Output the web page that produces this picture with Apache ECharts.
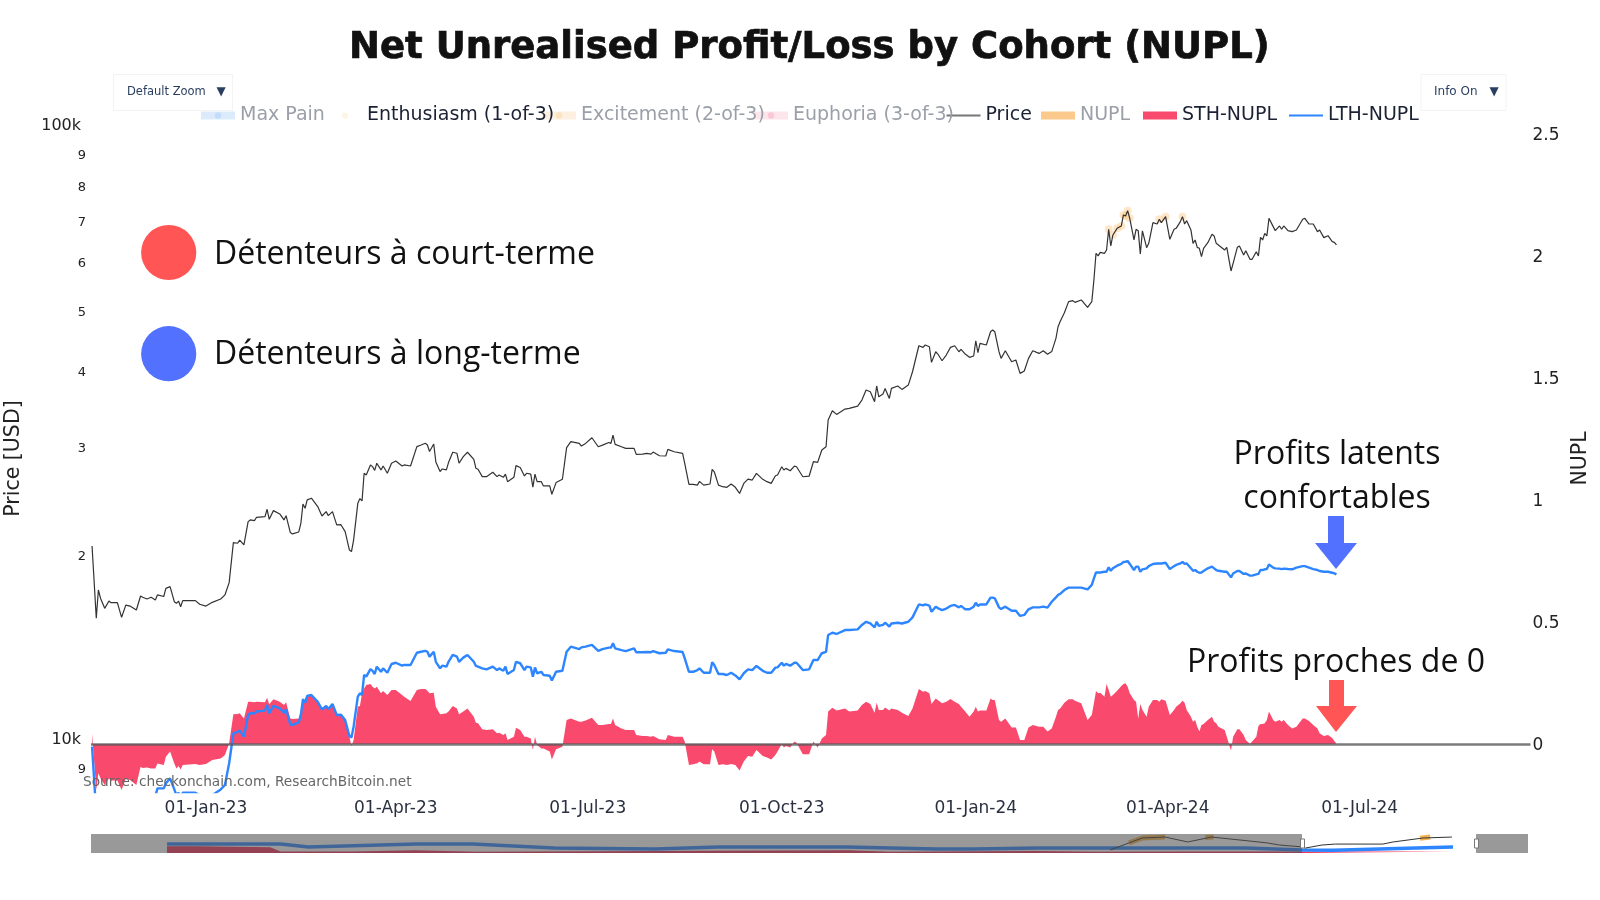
<!DOCTYPE html>
<html>
<head>
<meta charset="utf-8">
<title>Net Unrealised Profit/Loss by Cohort (NUPL)</title>
<script src="https://cdn.jsdelivr.net/npm/echarts@6/dist/echarts.min.js"></script>
<style>
	html, body { margin: 0; padding: 0; background: #fff; }
	#chart { width: 1600px; height: 900px; }
</style>
</head>
<body>
<div id="chart"></div>
<script>
// days since startDate
var startDate = Date.UTC(2022, 10, 8);
var days = [
	0,2,3,4,6,8,9,12,14,16,
	18,21,23,24,26,28,30,31,34,35,
	37,39,40,41,42,43,49,51,54,57,
	61,63,65,67,69,70,72,74,75,77,
	78,82,83,84,86,89,91,92,94,95,
	98,99,100,101,102,104,107,109,111,112,
	114,116,118,120,122,123,124,126,127,128,
	129,130,132,133,134,135,137,138,140,142,
	144,147,148,151,154,156,158,159,160,162,
	163,165,166,168,169,171,173,174,176,178,
	181,182,183,185,187,190,192,193,195,196,
	197,200,201,203,205,206,208,209,210,211,
	213,214,217,218,220,223,225,227,231,232,
	234,237,240,242,245,246,247,248,251,253,
	257,258,261,263,265,266,269,272,273,276,
	280,281,283,285,287,288,290,293,294,295,
	297,299,301,303,305,307,309,311,313,315,
	318,320,322,324,325,327,328,329,331,333,
	334,337,340,342,344,346,348,349,351,353,
	357,359,363,365,367,369,371,372,373,375,
	376,378,379,382,384,387,389,392,394,395,
	397,398,400,401,403,405,407,409,411,412,
	414,416,418,419,420,421,424,426,427,428,
	430,431,433,436,438,440,442,444,446,449,
	451,453,455,457,458,459,461,463,465,466,
	469,472,474,475,476,477,478,480,481,482,
	483,484,486,488,489,490,491,492,494,495,
	496,497,498,500,501,503,505,506,507,509,
	511,513,514,516,517,518,519,521,522,523,
	524,525,526,527,529,531,532,533,534,537,
	538,540,541,543,544,546,547,549,550,552,
	553,554,555,556,557,558,560,561,563,564,
	565,567,569,571,574,575,577,579,581,582,
	584,586,588,589,590
];
var price = [
	20600,15700,17460,16930,16300,16750,16650,16650,15760,16500,
	16440,16200,17070,16990,16880,16990,16820,17140,17040,17570,
	17680,16710,16610,16750,16400,16780,16780,16550,16440,16670,
	16880,17140,17950,20860,20810,21060,20680,22570,22710,22650,
	22940,23000,23640,22770,23520,23230,22710,23080,21660,21550,
	21710,22430,24110,23730,24490,24640,23880,23050,23430,23080,
	23430,22290,22310,21740,20290,20170,21060,24170,24610,24390,
	27060,26890,27920,27740,27350,28100,27400,27810,27060,28100,
	28340,27810,27920,27810,29910,30090,30280,30090,29360,30200,
	28230,27230,27500,27400,28170,29280,29170,28100,28800,29280,
	28500,27570,27470,26720,26720,27160,26720,26890,26650,26980,
	26220,26650,27850,27660,26790,27060,26980,25680,26980,26220,
	26220,25800,25800,25010,26130,26460,29800,30470,30280,29970,
	30270,30920,29890,30080,30380,30270,31230,30160,29890,29710,
	29710,29050,29080,29160,29080,29300,28900,28870,29600,29340,
	29160,28080,25950,25950,25880,26250,25880,25990,27460,27210,
	25880,25730,25670,25990,25670,25090,26050,26480,26380,27050,
	26450,26220,26050,26810,26890,27730,27390,27560,27320,27800,
	27730,26710,26780,28260,28190,29530,29890,33040,34220,33750,
	34430,34520,34820,35620,36980,36750,35400,37550,36060,36430,
	37210,35840,37210,37550,37070,37680,39610,43670,43400,43790,
	43510,41030,42700,42330,41280,42170,43400,43670,42700,43080,
	42330,41810,42020,44500,42550,44060,43790,46030,46320,46030,
	42700,41650,42860,41130,41390,39370,39720,41650,42860,42430,
	42870,42290,42720,44900,46900,47820,49440,51530,51730,51400,
	51860,50450,51530,55890,61780,61180,62010,61780,62560,67610,
	63500,66180,67860,68460,71340,71070,72510,70450,64950,67610,
	67270,61630,67200,63110,64140,69310,68960,70190,69310,70900,
	65120,67610,67860,69580,70900,68960,69840,67440,64140,64950,
	63180,62950,61010,62950,64300,66350,65940,64140,63740,62560,
	63180,57820,59510,63180,63500,61390,62400,60410,60410,62160,
	61180,65610,64950,66590,65940,70450,68290,67270,68460,67610,
	68460,67270,67010,67440,70190,70450,68960,68960,67010,67440,
	65520,66010,64540,64380,63740
];
var lthNupl = [
	-.011,-.284,-.24,-.25,-.26,-.25,-.25,-.25,-.28,-.25,
	-.25,-.26,-.215,-.22,-.22,-.215,-.215,-.182,-.182,-.161,
	-.141,-.186,-.21,-.2,-.22,-.2,-.2,-.21,-.22,-.21,
	-.186,-.168,-.079,.044,.05,.055,.03,.119,.126,.126,
	.133,.137,.16,.126,.156,.146,.128,.142,.08,.078,
	.089,.119,.184,.169,.197,.201,.173,.142,.156,.143,
	.164,.119,.12,.098,.033,.027,.071,.194,.208,.201,
	.283,.276,.307,.3,.287,.317,.296,.31,.292,.328,
	.333,.321,.324,.324,.374,.378,.382,.378,.358,.378,
	.337,.31,.321,.317,.337,.365,.358,.337,.354,.365,
	.337,.32,.317,.31,.306,.317,.303,.31,.30,.317,
	.287,.303,.337,.331,.303,.317,.314,.276,.314,.29,
	.296,.283,.28,.26,.296,.30,.378,.399,.389,.396,
	.399,.406,.382,.389,.395,.395,.413,.392,.385,.381,
	.392,.376,.376,.377,.376,.381,.372,.374,.388,.381,
	.377,.351,.296,.296,.303,.31,.292,.292,.335,.324,
	.287,.287,.283,.292,.281,.265,.29,.306,.303,.32,
	.30,.292,.292,.313,.314,.333,.321,.328,.321,.333,
	.333,.303,.306,.344,.344,.372,.378,.447,.456,.451,
	.467,.467,.47,.488,.501,.494,.478,.501,.484,.488,
	.497,.481,.494,.497,.494,.501,.519,.572,.568,.572,
	.567,.542,.563,.557,.549,.555,.566,.57,.56,.566,
	.552,.552,.563,.579,.566,.572,.572,.6,.6,.597,
	.56,.553,.563,.546,.546,.525,.529,.552,.56,.56,
	.563,.559,.583,.601,.611,.615,.631,.641,.641,.641,
	.641,.634,.652,.679,.703,.703,.703,.706,.706,.724,
	.71,.72,.731,.738,.746,.747,.75,.738,.713,.727,
	.727,.706,.716,.72,.729,.738,.74,.74,.74,.743,
	.717,.729,.734,.74,.746,.738,.74,.72,.71,.713,
	.706,.702,.703,.709,.72,.727,.72,.713,.71,.706,
	.706,.683,.699,.709,.709,.697,.699,.69,.69,.695,
	.697,.713,.713,.716,.717,.736,.723,.72,.719,.717,
	.719,.717,.716,.723,.729,.729,.723,.717,.713,.709,
	.706,.706,.702,.699,.695
];
var sthNupl = [
	.044,-.189,-.12,-.14,-.168,-.141,-.15,-.15,-.189,-.141,
	-.148,-.168,-.093,-.098,-.096,-.1,-.1,-.08,-.086,-.052,
	-.031,-.08,-.1,-.09,-.104,-.086,-.082,-.086,-.082,-.066,
	-.059,-.045,.003,.122,.123,.126,.105,.173,.173,.171,
	.173,.171,.19,.163,.183,.173,.16,.171,.105,.102,
	.105,.139,.187,.17,.198,.204,.173,.142,.156,.143,
	.164,.119,.12,.098,.03,-.008,.016,.153,.156,.208,
	.228,.242,.246,.235,.228,.235,.208,.217,.201,.221,
	.221,.201,.194,.176,.221,.225,.225,.218,.208,.21,
	.153,.122,.123,.126,.133,.156,.146,.122,.133,.146,
	.112,.087,.085,.06,.057,.06,.044,.046,.037,.044,
	.016,.03,.067,.057,.03,.03,.023,-.025,.03,-.004,
	-.018,-.018,-.031,-.063,-.022,-.011,.098,.105,.091,.091,
	.096,.108,.078,.078,.082,.082,.105,.078,.064,.057,
	.057,.037,.033,.033,.03,.033,.02,.016,.037,.03,
	.03,.01,-.086,-.083,-.079,-.072,-.083,-.083,-.022,-.031,
	-.086,-.083,-.086,-.082,-.086,-.109,-.072,-.049,-.052,-.025,
	-.049,-.055,-.063,-.045,-.031,0,-.014,-.008,-.014,.01,
	.005,-.042,-.042,.01,-.014,.023,.037,.133,.149,.137,
	.146,.133,.137,.16,.173,.164,.128,.169,.139,.139,
	.15,.137,.146,.139,.128,.115,.146,.225,.214,.217,
	.208,.164,.187,.18,.167,.173,.184,.173,.164,.153,
	.133,.112,.133,.153,.133,.137,.137,.187,.18,.18,
	.098,.091,.105,.068,.068,.016,.016,.068,.078,.071,
	.071,.051,.064,.112,.139,.146,.169,.183,.183,.177,
	.167,.098,.119,.167,.217,.208,.21,.194,.246,.221,
	.194,.201,.218,.238,.246,.249,.235,.208,.18,.173,
	.105,.164,.139,.112,.153,.18,.18,.173,.183,.177,
	.119,.139,.153,.167,.177,.169,.139,.112,.091,.098,
	.071,.051,.078,.082,.098,.112,.091,.085,.071,.057,
	.03,-.027,.03,.06,.06,.037,.016,0,.01,.03,
	.074,.082,.082,.085,.098,.133,.098,.091,.098,.091,
	.098,.078,.064,.071,.105,.105,.094,.078,.064,.044,
	.033,.037,.025,.012,.002
];
// the price days that carry an Enthusiasm marker
var enthusiasmDays = [482,484,486,488,489,490,491,492,506,509,517];
var enthusiasmPrice = [67610,66180,67860,68460,71340,71070,72510,70450,70190,70900,70900];

// overview strip under the chart (full history, years on x, share of strip height on y)
var miniLthYears = [2012,2013.1,2013.37,2014.42,2014.96,2015.75,2016.73,2017.34,2018.58,2019.46,2019.82,2020.44,2021.32,2022.46,2023,2023.3,2024.46];
var miniLth = [.47,.47,.32,.47,.47,.26,.21,.32,.32,.21,.21,.26,.26,.26,.16,.14,.32];
var miniPriceYears = [2021.14,2021.32,2021.45,2021.67,2021.89,2022.12,2022.49,2022.66,2022.78,2023,2023.03,2023.19,2023.32,2023.78,2023.88,2024.17,2024.45];
var miniPrice = [.16,.53,.79,.84,.58,.84,.63,.53,.42,.32,.26,.42,.47,.47,.58,.79,.84];
var miniSthYears = [2012,2012.3,2013,2013.1,2013.8,2014.4,2015,2018.6,2019,2020.4,2021,2022,2023,2024.46];
var miniSth = [.35,.35,.3,.08,.08,.14,.06,.14,.06,.1,.06,.08,.08,.08];
var miniGlowYears = [2021.32,2021.45,2021.67,null,2022.06,2022.14,null,2024.14,2024.24];
var miniGlow = [.53,.79,.84,null,.82,.84,null,.78,.84];

// tick labels
var xTickDates = [Date.UTC(2023,0,1),Date.UTC(2023,3,1),Date.UTC(2023,6,1),Date.UTC(2023,9,1),Date.UTC(2024,0,1),Date.UTC(2024,3,1),Date.UTC(2024,6,1)];
var monthNames = ['Jan','Feb','Mar','Apr','May','Jun','Jul','Aug','Sep','Oct','Nov','Dec'];
var priceTicks = [9000,10000,20000,30000,40000,50000,60000,70000,80000,90000,100000];
var nuplTicks = [0,0.5,1,1.5,2,2.5];

var legendNames = ['Max Pain','Enthusiasm (1-of-3)','Excitement (2-of-3)','Euphoria (3-of-3)','Price','NUPL','STH-NUPL','LTH-NUPL'];

var DAY = 86400000;
function toSeries(dayList, values) {
	var out = [];
	for (var i = 0; i < dayList.length; i++) {
		out.push([startDate + dayList[i] * DAY, values[i]]);
	}
	return out;
}
function zipPairs(xs, ys) {
	var out = [];
	for (var i = 0; i < xs.length; i++) {
		out.push(xs[i] === null ? [null, null] : [xs[i], ys[i]]);
	}
	return out;
}

var sans = '"DejaVu Sans"';
var fadedText = '#9a9fa8';
var darkText = '#1b2233';

function legendItem(left, name, icon, color, textColor, height, z) {
	var item = { name: name, textStyle: { color: textColor } };
	if (icon) {
		item.icon = icon;
		item.itemStyle = { color: color };
	}
	return {
		left: left, top: 101, z: z, selectedMode: false, itemWidth: 34, itemHeight: height,
		lineStyle: { width: 8 },
		textStyle: { fontFamily: sans, fontSize: 19 },
		data: [item]
	};
}

var myChart = echarts.init(document.getElementById('chart'));

var option = {
	animation: false,
	useUTC: true,
	backgroundColor: '#fff',
	title: {
		text: 'Net Unrealised Profit/Loss by Cohort (NUPL)',
		left: 344, top: 25,
		textStyle: { fontFamily: sans, fontWeight: 'bold', fontSize: 37, color: '#111', textBorderColor: '#111', textBorderWidth: 0.7 }
	},
	legend: [
		legendItem(192, legendNames[0], null, null, fadedText, 8, 20),
		legendItem(337, legendNames[1], 'circle', '#fde3bd', darkText, 6, 19),
		legendItem(533, legendNames[2], null, null, fadedText, 8, 18),
		legendItem(745, legendNames[3], null, null, fadedText, 8, 17),
		legendItem(941.5, legendNames[4], 'rect', '#777', darkText, 2, 16),
		legendItem(1036, legendNames[5], 'rect', '#fbc98c', fadedText, 8, 15),
		legendItem(1138, legendNames[6], 'rect', '#f94a6e', darkText, 8, 14),
		legendItem(1284, legendNames[7], 'rect', '#2d86ff', darkText, 2, 13)
	],
	grid: [
		{ left: 91, right: 69.5, top: 125, height: 667, outerBoundsMode: 'none' },
		{ left: 167, right: 147, top: 834, height: 19, outerBoundsMode: 'none' }
	],
	xAxis: [
		{
			type: 'value', gridIndex: 0,
			min: startDate - 0.5 * DAY, max: startDate + 682 * DAY,
			axisLine: { show: false }, axisTick: { show: false }, splitLine: { show: false },
			axisLabel: {
				customValues: xTickDates, margin: 8,
				fontFamily: sans, fontSize: 17, color: '#2a3040',
				formatter: function(value) {
					var d = new Date(value);
					var dd = d.getUTCDate();
					var yy = d.getUTCFullYear() % 100;
					return (dd < 10 ? '0' : '') + dd + '-' + monthNames[d.getUTCMonth()] + '-' + yy;
				}
			}
		},
		{ type: 'value', gridIndex: 1, min: 2012, max: 2024.46, show: false }
	],
	yAxis: [
		{
			type: 'log', gridIndex: 0, logBase: 10, min: 8181, max: 100000,
			name: 'Price [USD]', nameLocation: 'middle', nameGap: 67, nameRotate: 90,
			nameTextStyle: { fontFamily: sans, fontSize: 20.5, color: '#222' },
			axisLine: { show: false }, axisTick: { show: false }, splitLine: { show: false }, minorSplitLine: { show: false },
			axisLabel: {
				customValues: priceTicks, margin: 5, color: '#222',
				formatter: function(value) {
					var v = Math.round(value);
					if (v == 100000) return '{big|100k}';
					if (v == 10000) return '{big|10k}';
					return '{small|' + Math.round(v >= 10000 ? v / 10000 : v / 1000) + '}';
				},
				rich: {
					big: { fontFamily: sans, fontSize: 16, color: '#222', padding: [2, 5, 0, 0] },
					small: { fontFamily: sans, fontSize: 13, color: '#222', padding: [6, 0, 0, 0] }
				}
			}
		},
		{
			type: 'value', gridIndex: 0, position: 'right', min: -0.1967, max: 2.537,
			name: 'NUPL', nameLocation: 'middle', nameGap: 38, nameRotate: 90,
			nameTextStyle: { fontFamily: sans, fontSize: 20.5, color: '#222' },
			axisLine: { show: false }, axisTick: { show: false }, splitLine: { show: false },
			axisLabel: {
				customValues: nuplTicks, margin: 2,
				formatter: function(value) {
					return '{v|' + value + '}';
				},
				rich: {
					v: { fontFamily: sans, fontSize: 17, color: '#222', padding: [4, 0, 0, 0] }
				}
			}
		},
		{ type: 'value', gridIndex: 1, min: 0, max: 1, show: false }
	],
	series: [
		{
			name: legendNames[0], type: 'line', xAxisIndex: 0, yAxisIndex: 1, data: [], symbol: 'circle',
			itemStyle: { color: '#c2dcfa' }, lineStyle: { color: '#dcebfc', width: 8 }
		},
		{
			name: legendNames[1], type: 'scatter', xAxisIndex: 0, yAxisIndex: 0,
			symbolSize: 8, itemStyle: { color: '#fcbf70', opacity: 0.38 }, z: 1,
			data: toSeries(enthusiasmDays, enthusiasmPrice)
		},
		{
			name: legendNames[2], type: 'line', xAxisIndex: 0, yAxisIndex: 1, data: [], symbol: 'circle',
			itemStyle: { color: '#fde3bd' }, lineStyle: { color: '#fdf0e0', width: 8 }
		},
		{
			name: legendNames[3], type: 'line', xAxisIndex: 0, yAxisIndex: 1, data: [], symbol: 'circle',
			itemStyle: { color: '#fbc7d6' }, lineStyle: { color: '#fce6ec', width: 8 }
		},
		{
			name: legendNames[4], type: 'line', xAxisIndex: 0, yAxisIndex: 0,
			showSymbol: false, z: 3, lineStyle: { color: '#333', width: 1.2 },
			data: toSeries(days, price)
		},
		{
			name: legendNames[5], type: 'line', xAxisIndex: 0, yAxisIndex: 1, data: [],
			itemStyle: { color: '#fbc98c' }, lineStyle: { color: '#fbc98c', width: 2 }
		},
		{
			name: legendNames[6], type: 'line', xAxisIndex: 0, yAxisIndex: 1,
			showSymbol: false, z: 2, lineStyle: { width: 0 },
			itemStyle: { color: '#f94a6e' },
			areaStyle: { color: '#f94a6e', opacity: 1 },
			markLine: {
				silent: true, symbol: 'none', label: { show: false }, animation: false,
				lineStyle: { color: 'rgba(90,90,90,0.8)', width: 2.5, type: 'solid' },
				data: [{ yAxis: 0 }]
			},
			data: toSeries(days, sthNupl)
		},
		{
			name: legendNames[7], type: 'line', xAxisIndex: 0, yAxisIndex: 1,
			showSymbol: false, z: 4, lineStyle: { color: '#2d86ff', width: 2.4 },
			itemStyle: { color: '#2d86ff' },
			data: toSeries(days, lthNupl)
		},
		{
			type: 'line', xAxisIndex: 1, yAxisIndex: 2, showSymbol: false, z: 1,
			lineStyle: { width: 0 }, areaStyle: { color: '#f0305a', opacity: 1 },
			data: zipPairs(miniSthYears, miniSth)
		},
		{
			type: 'line', xAxisIndex: 1, yAxisIndex: 2, showSymbol: false, z: 2,
			lineStyle: { color: '#2d86ff', width: 3.5 },
			data: zipPairs(miniLthYears, miniLth)
		},
		{
			type: 'line', xAxisIndex: 1, yAxisIndex: 2, showSymbol: false, z: 3,
			connectNulls: false, lineStyle: { color: '#f3b24f', width: 5 },
			data: zipPairs(miniGlowYears, miniGlow)
		},
		{
			type: 'line', xAxisIndex: 1, yAxisIndex: 2, showSymbol: false, z: 4,
			lineStyle: { color: '#333', width: 1 },
			data: zipPairs(miniPriceYears, miniPrice)
		}
	],
	graphic: [
		// zoom and info buttons
		{ type: 'rect', z: 50, shape: { x: 113.5, y: 74.5, width: 119, height: 36 }, style: { fill: 'none', stroke: '#f3f3f3' } },
		{ type: 'text', z: 51, style: { text: 'Default Zoom', x: 127, y: 92, font: '11.5px ' + sans, fill: '#2a3f5f', textVerticalAlign: 'middle' } },
		{ type: 'text', z: 51, style: { text: '▼', x: 221, y: 92, font: '12px ' + sans, fill: '#2a3f5f', textAlign: 'center', textVerticalAlign: 'middle' } },
		{ type: 'rect', z: 50, shape: { x: 1421, y: 74.5, width: 85, height: 36 }, style: { fill: 'none', stroke: '#f3f3f3' } },
		{ type: 'text', z: 51, style: { text: 'Info On', x: 1434, y: 92, font: '12px ' + sans, fill: '#2a3f5f', textVerticalAlign: 'middle' } },
		{ type: 'text', z: 51, style: { text: '▼', x: 1494, y: 92, font: '12px ' + sans, fill: '#2a3f5f', textAlign: 'center', textVerticalAlign: 'middle' } },
		// overview strip mask and handles
		{ type: 'rect', z: 50, shape: { x: 91, y: 834, width: 1211, height: 19 }, style: { fill: 'rgba(80,80,80,0.58)' } },
		{ type: 'rect', z: 50, shape: { x: 1476, y: 834, width: 52, height: 19 }, style: { fill: 'rgba(80,80,80,0.58)' } },
		{ type: 'rect', z: 51, shape: { x: 1300.5, y: 839, width: 4, height: 9 }, style: { fill: '#fff', stroke: '#777' } },
		{ type: 'rect', z: 51, shape: { x: 1474.5, y: 839, width: 4, height: 9 }, style: { fill: '#fff', stroke: '#777' } },
		// source line
		{ type: 'text', z: 60, style: { text: 'Source: checkonchain.com, ResearchBitcoin.net', x: 83, y: 782, font: '13.7px ' + sans, fill: '#666', textVerticalAlign: 'middle' } },
		// cohort key
		{ type: 'circle', z: 60, shape: { cx: 168.7, cy: 252.5, r: 27.6 }, style: { fill: '#ff5555' } },
		{ type: 'circle', z: 60, shape: { cx: 168.7, cy: 353.7, r: 27.6 }, style: { fill: '#5271ff' } },
		{ type: 'text', z: 60, style: { text: 'Détenteurs à court-terme', x: 214, y: 254.5, font: '32px "Open Sans"', fill: '#111', textVerticalAlign: 'middle' } },
		{ type: 'text', z: 60, style: { text: 'Détenteurs à long-terme', x: 214, y: 354.5, font: '32px "Open Sans"', fill: '#111', textVerticalAlign: 'middle' } },
		// callouts
		{ type: 'text', z: 60, style: { text: 'Profits latents', x: 1337, y: 455, font: '32px "Open Sans"', fill: '#111', textAlign: 'center', textVerticalAlign: 'middle' } },
		{ type: 'text', z: 60, style: { text: 'confortables', x: 1337, y: 499, font: '32px "Open Sans"', fill: '#111', textAlign: 'center', textVerticalAlign: 'middle' } },
		{ type: 'text', z: 60, style: { text: 'Profits proches de 0', x: 1336, y: 663, font: '32px "Open Sans"', fill: '#111', textAlign: 'center', textVerticalAlign: 'middle' } },
		{ type: 'polygon', z: 60, shape: { points: [[1328,516],[1344,516],[1344,543],[1357,543],[1336,569],[1315,543],[1328,543]] }, style: { fill: '#5271ff' } },
		{ type: 'polygon', z: 60, shape: { points: [[1329,680],[1344,680],[1344,706],[1357,706],[1336,732],[1316,706],[1329,706]] }, style: { fill: '#ff5555' } }
	]
};

myChart.setOption(option);
</script>
</body>
</html>
